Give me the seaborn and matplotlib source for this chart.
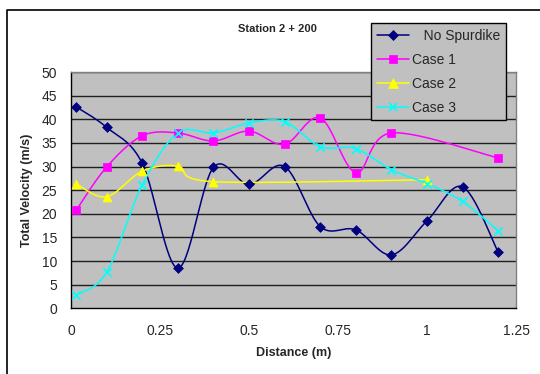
import numpy as np
import pandas as pd
import matplotlib
matplotlib.use("Agg")
import matplotlib.pyplot as plt
from matplotlib.lines import Line2D
import seaborn as sns

# Velocity profiles at station 2 + 200
dist_no_spur = [0.015, 0.1, 0.2, 0.3, 0.4, 0.5, 0.6, 0.7, 0.8, 0.9, 1.0, 1.1, 1.2]
vel_no_spur = [42.6, 38.3, 30.7, 8.5, 29.8, 26.2, 30.0, 17.3, 16.6, 11.3, 18.5, 25.7, 11.9]

dist_case1 = [0.015, 0.1, 0.2, 0.3, 0.4, 0.5, 0.6, 0.7, 0.8, 0.9, 1.2]
vel_case1 = [20.8, 29.9, 36.5, 37.1, 35.4, 37.5, 34.7, 40.3, 28.7, 37.1, 31.8]

dist_case2 = [0.015, 0.1, 0.2, 0.3, 0.4, 1.0]
vel_case2 = [26.3, 23.6, 29.0, 30.1, 26.8, 27.2]

dist_case3 = [0.015, 0.1, 0.2, 0.3, 0.4, 0.5, 0.6, 0.7, 0.8, 0.9, 1.0, 1.1, 1.2]
vel_case3 = [2.8, 7.6, 26.1, 37.1, 37.1, 39.2, 39.5, 34.2, 33.8, 29.3, 26.4, 22.6, 16.4]

series_names = ["No Spurdike", "Case 1", "Case 2", "Case 3"]
x_ticks = [0, 0.25, 0.5, 0.75, 1, 1.25]
x_tick_labels = ["0", "0.25", "0.5", "0.75", "1", "1.25"]
y_ticks = list(range(0, 55, 5))

sns.set_style("white")
plt.rcParams["font.family"] = ["Liberation Sans", "DejaVu Sans"]


def smooth(xs, ys, steps=30):
    """Catmull-Rom smoothing through every point (spreadsheet-style smoothed line)."""
    p = np.column_stack([xs, ys]).astype(float)
    p_ext = np.vstack([p[0], p, p[-1]])
    out = []
    for i in range(1, len(p_ext) - 2):
        p0, p1, p2, p3 = p_ext[i - 1], p_ext[i], p_ext[i + 1], p_ext[i + 2]
        c1 = p1 + (p2 - p0) / 6.0
        c2 = p2 - (p3 - p1) / 6.0
        t = np.linspace(0, 1, steps, endpoint=(i == len(p_ext) - 3))[:, None]
        seg = ((1 - t) ** 3) * p1 + 3 * ((1 - t) ** 2) * t * c1 + 3 * (1 - t) * t ** 2 * c2 + t ** 3 * p2
        out.append(seg)
    s = np.vstack(out)
    return s[:, 0], s[:, 1]


W, H = 540, 374
fig = plt.figure(figsize=(W / 100, H / 100), dpi=100)
fig.patch.set_facecolor("white")

left, right, top, bottom = 71, 516, 72, 308.3
ax = fig.add_axes([left / W, 1 - bottom / H, (right - left) / W, (bottom - top) / H])
ax.set_facecolor("#C0C0C0")

styles = [
    dict(color="#000080", marker="D", size=5, mec="#000080"),
    dict(color="#FF00FF", marker="s", size=6, mec="#FF00FF"),
    dict(color="#FFFF00", marker="^", size=6.5, mec="#FFFF00"),
    dict(color="#00FFFF", marker="x", size=6, mec="#00FFFF"),
]
data = [(dist_no_spur, vel_no_spur), (dist_case1, vel_case1),
        (dist_case2, vel_case2), (dist_case3, vel_case3)]

for y in y_ticks[1:]:
    ax.axhline(y, color="#202020", lw=1.0, zorder=1)

handles = []
for name, (xs, ys), st in zip(series_names, data, styles):
    sx, sy = smooth(xs, ys)
    curve = pd.DataFrame({"x": sx, "y": sy})
    sns.lineplot(data=curve, x="x", y="y", sort=False, estimator=None,
                 color=st["color"], lw=1.1, ax=ax, zorder=3)
    pts = pd.DataFrame({"x": xs, "y": ys})
    sns.scatterplot(data=pts, x="x", y="y", marker=st["marker"], s=st["size"] ** 2,
                    color=st["color"], edgecolor=st["mec"],
                    linewidth=1.2 if st["marker"] == "x" else 0.5, ax=ax, zorder=4)
    handles.append(Line2D([], [], color=st["color"], lw=1.1, marker=st["marker"],
                          markersize=st["size"], markerfacecolor=st["color"],
                          markeredgecolor=st["mec"], mew=1.2 if st["marker"] == "x" else 0.5))

ax.set_xlim(0, 1.25)
ax.set_ylim(0, 50)
ax.set_xticks(x_ticks)
ax.set_xticklabels(x_tick_labels)
ax.set_yticks(y_ticks)
ax.tick_params(axis="both", direction="out", length=4, width=1, color="black",
               labelsize=10, pad=6)
ax.tick_params(axis="x", pad=7)
ax.set_xlabel("Distance (m)", fontsize=9, fontweight="bold", labelpad=7)
ax.set_ylabel("Total Velocity (m/s)", fontsize=9, fontweight="bold", labelpad=6)

for side in ["top", "right"]:
    ax.spines[side].set_color("#808080")
    ax.spines[side].set_linewidth(1)
for side in ["left", "bottom"]:
    ax.spines[side].set_color("black")
    ax.spines[side].set_linewidth(1)

fig.text(277 / W, 1 - 29 / H, "Station 2 + 200", fontsize=8, fontweight="bold",
         ha="center", va="center")

labels = ["   " + series_names[0]] + series_names[1:]
leg = fig.legend(handles, labels, loc="upper left",
                 bbox_to_anchor=(371 / W, 1 - 23 / H), bbox_transform=fig.transFigure,
                 frameon=True, fancybox=False, fontsize=10, handlelength=2.3,
                 handletextpad=0.25, borderpad=0.4, labelspacing=0.72,
                 borderaxespad=0)
leg.get_frame().set_facecolor("#C0C0C0")
leg.get_frame().set_edgecolor("black")
leg.get_frame().set_linewidth(1)
leg.get_frame().set_alpha(1)

# outer chart frame
fig.add_artist(Line2D([7 / W, 7 / W, 1.0], [0.0, 1 - 10 / H, 1 - 10 / H],
                      transform=fig.transFigure, color="black", lw=1.2))

fig.savefig("out.png", dpi=100)
